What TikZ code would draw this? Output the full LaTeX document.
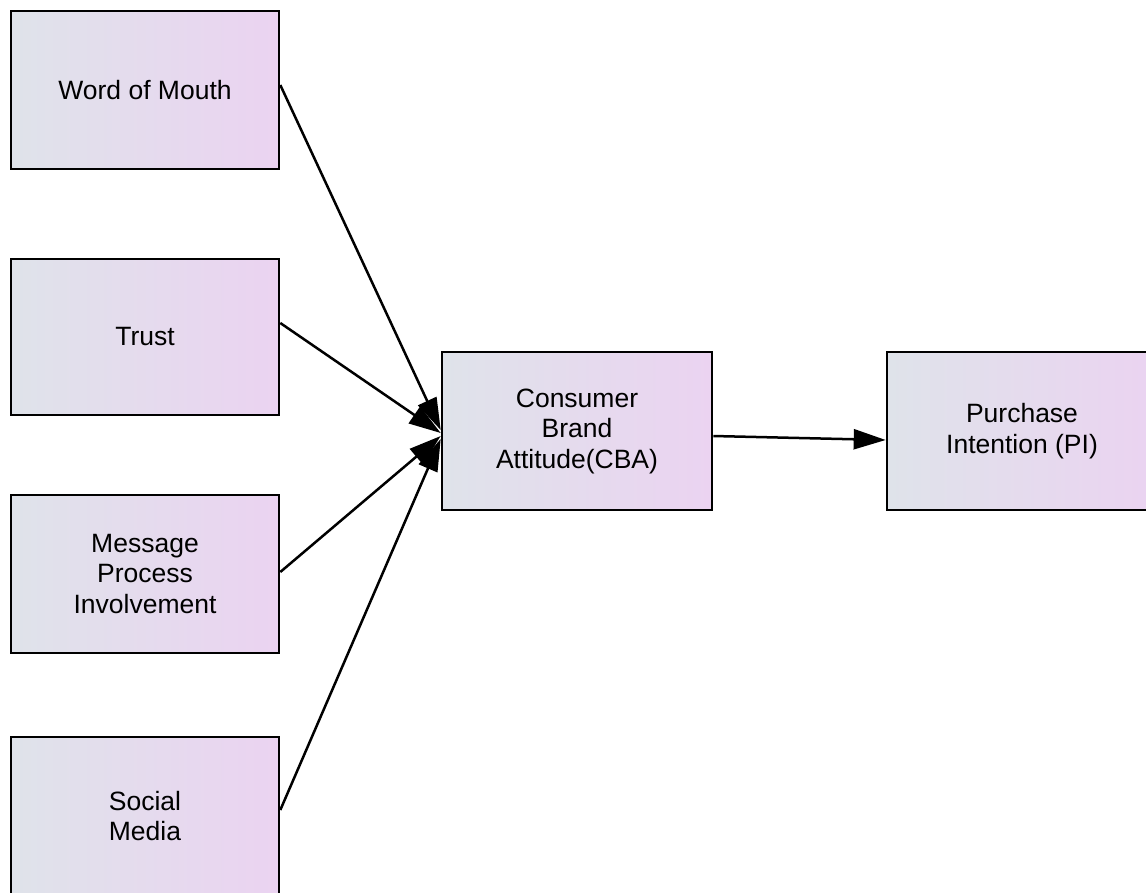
\documentclass[tikz,border=0pt]{standalone}
\usepackage{fontspec}
\setmainfont{Liberation Sans}
\usetikzlibrary{arrows.meta,calc}
\definecolor{gl}{HTML}{DFE3EA}
\definecolor{gr}{HTML}{EBD3F1}
\begin{document}
\begin{tikzpicture}[x=1pt,y=-1pt,
 box/.style={draw=black,line width=2.6pt,left color=gl,right color=gr,inner sep=0pt,align=center,
   font=\fontsize{26.5}{30.5}\selectfont,minimum width=268pt,minimum height=158pt},
 arr/.style={line width=2.5pt,-{Triangle[length=32pt,width=20pt]}}]
\useasboundingbox (0,0) rectangle (1146,892);
\clip (0,0) rectangle (1146,892);
\node[box] (wom) at (145,90) {Word of Mouth};
\node[box,minimum height=156pt] (trust) at (145,337) {Trust};
\node[box] (mpi) at (145,574) {Message\\Process\\Involvement};
\node[box] (sm) at (145,816) {Social\\Media};
\node[box,minimum width=270pt] (cba) at (577,431) {Consumer\\Brand\\Attitude(CBA)};
\node[box,minimum width=270pt] (pi) at (1022,431) {Purchase\\Intention (PI)};
\draw[arr] ($(wom.east)+(0,-5)$) -- ($(cba.west)+(0,-1)$);
\draw[arr] ($(trust.east)+(0,-14)$) -- ($(cba.west)+(0,2)$);
\draw[arr] ($(mpi.east)+(0,-2)$) -- ($(cba.west)+(0,5)$);
\draw[arr] ($(sm.east)+(0,-6)$) -- ($(cba.west)+(0,8)$);
\draw[arr] ($(cba.east)+(0,5)$) -- ($(pi.west)+(0,9)$);
\end{tikzpicture}
\end{document}
